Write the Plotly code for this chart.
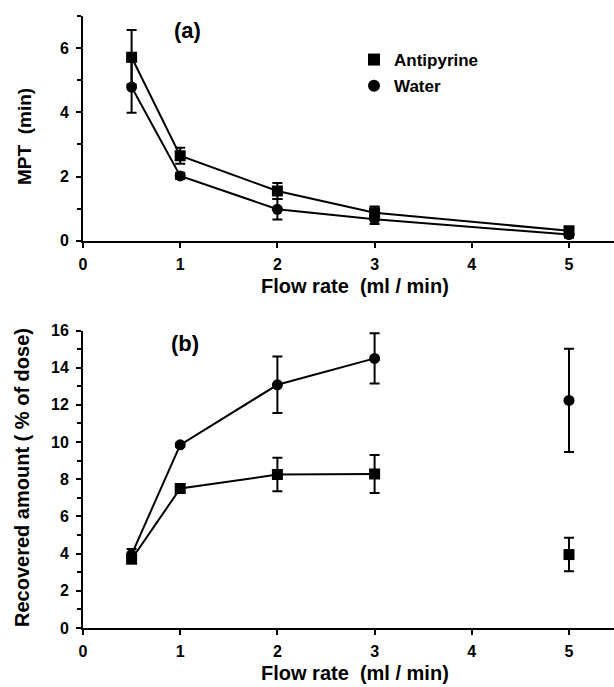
import plotly.graph_objects as go

# ---- data ----
flow = [0.5, 1, 2, 3, 5]

mpt_antipyrine = [5.72, 2.65, 1.55, 0.87, 0.31]
mpt_antipyrine_err = [0.85, 0.25, 0.25, 0.2, 0.1]
mpt_water = [4.79, 2.02, 0.98, 0.67, 0.19]
mpt_water_err = [0.8, 0.1, 0.32, 0.15, 0.1]

rec_antipyrine = [3.7, 7.5, 8.25, 8.28, 3.95]
rec_antipyrine_err = [0.2, 0.1, 0.9, 1.02, 0.9]
rec_water = [3.95, 9.85, 13.08, 14.5, 12.24]
rec_water_err = [0.3, 0.1, 1.52, 1.35, 2.78]

x_ticks = [0, 1, 2, 3, 4, 5]
y1_ticks = [0, 2, 4, 6]
y2_ticks = [0, 2, 4, 6, 8, 10, 12, 14, 16]

FONT = "Liberation Sans, Arial, Helvetica, sans-serif"
BLACK = "black"

W, H = 614, 687
AX_LEFT, AX_BOTTOM = 83, 628      # pixel of the axes origin (bottom panel)
ML = AX_LEFT
MT = 16
MB = H - AX_BOTTOM
MR = 0
PH = H - MT - MB
PW = W - ML - MR


def px_x(p):
    return (p - ML) / PW


def px_y(p):
    return (H - MB - p) / PH


def ydom(top_px, bottom_px):
    return [px_y(bottom_px), px_y(top_px)]


fig = go.Figure()


def add_series(x, y, err, symbol, xa, ya, connect_n):
    fig.add_trace(go.Scatter(
        x=x[:connect_n], y=y[:connect_n], mode="lines+markers",
        xaxis=xa, yaxis=ya, showlegend=False,
        line=dict(color=BLACK, width=2),
        marker=dict(symbol=symbol, size=11, color=BLACK),
        error_y=dict(type="data", array=err[:connect_n], color=BLACK,
                     thickness=2, width=5),
    ))
    if connect_n < len(x):
        fig.add_trace(go.Scatter(
            x=x[connect_n:], y=y[connect_n:], mode="markers",
            xaxis=xa, yaxis=ya, showlegend=False,
            marker=dict(symbol=symbol, size=11, color=BLACK),
            error_y=dict(type="data", array=err[connect_n:], color=BLACK,
                         thickness=2, width=5),
        ))


# panel (a)
add_series(flow, mpt_antipyrine, mpt_antipyrine_err, "square", "x", "y", 5)
add_series(flow, mpt_water, mpt_water_err, "circle", "x", "y", 5)
# panel (b)
add_series(flow, rec_antipyrine, rec_antipyrine_err, "square", "x2", "y2", 4)
add_series(flow, rec_water, rec_water_err, "circle", "x2", "y2", 4)

# legend entries
fig.add_trace(go.Scatter(x=[None], y=[None], mode="markers", name="Antipyrine",
                         legendgroup="a", xaxis="x", yaxis="y",
                         marker=dict(symbol="square", size=10, color=BLACK)))
fig.add_trace(go.Scatter(x=[None], y=[None], mode="markers", name="Water",
                         legendgroup="b", xaxis="x", yaxis="y",
                         marker=dict(symbol="circle", size=10, color=BLACK)))

tickfont = dict(family=FONT, size=16, color=BLACK, weight="bold")

x_max = (614 - AX_LEFT) / 97.2
xcommon = dict(range=[0, x_max], tickvals=x_ticks, ticks="outside", ticklen=5,
               tickwidth=1.5, tickcolor=BLACK, showline=True, linecolor=BLACK,
               linewidth=2, showgrid=False, zeroline=False, tickfont=tickfont,
               ticklabelstandoff=3)
ycommon = dict(ticks="outside", ticklen=5, tickwidth=1.5, tickcolor=BLACK,
               showline=True, linecolor=BLACK, linewidth=2, showgrid=False,
               zeroline=False, tickfont=tickfont, ticklabelstandoff=4)

fig.update_layout(
    width=W, height=H,
    margin=dict(l=ML, r=MR, t=MT, b=MB, pad=0),
    paper_bgcolor="white", plot_bgcolor="white",
    font=dict(family=FONT, color=BLACK),
    xaxis=dict(**xcommon, anchor="y", domain=[0, 1]),
    yaxis=dict(**ycommon, anchor="x", domain=ydom(16.2, 240.7), range=[0, 7],
               tickvals=y1_ticks,
               minor=dict(dtick=1, tick0=0, ticks="outside", ticklen=4,
                          tickcolor=BLACK, tickwidth=1.5)),
    xaxis2=dict(**xcommon, anchor="y2", domain=[0, 1]),
    yaxis2=dict(**ycommon, anchor="x2", domain=ydom(330.5, 628), range=[0, 16],
                tickvals=y2_ticks,
                minor=dict(dtick=1, tick0=0, ticks="outside", ticklen=4,
                           tickcolor=BLACK, tickwidth=1.5)),
    legend=dict(x=px_x(354), y=px_y(42),
                xanchor="left", yanchor="top",
                font=dict(family=FONT, size=17, color=BLACK, weight="bold"),
                bgcolor="rgba(0,0,0,0)", tracegroupgap=1,
                traceorder="grouped", itemsizing="constant"),
)

ann_font = lambda s: dict(family=FONT, size=s, color=BLACK, weight="bold")
common = dict(xref="paper", yref="paper", showarrow=False,
              xanchor="center", yanchor="middle")
annotations = [
    dict(text="(a)", x=px_x(187), y=px_y(30), font=ann_font(22), **common),
    dict(text="(b)", x=px_x(185), y=px_y(343), font=ann_font(22), **common),
    dict(text="Flow rate\u00a0 (ml / min)", x=px_x(355), y=px_y(286),
         font=ann_font(20), **common),
    dict(text="Flow rate\u00a0 (ml / min)", x=px_x(355), y=px_y(673),
         font=ann_font(20), **common),
    dict(text="MPT\u00a0 (min)", x=px_x(25), y=px_y(137), textangle=-90,
         font=ann_font(19), **common),
    dict(text="Recovered amount ( % of dose)", x=px_x(22), y=px_y(478),
         textangle=-90, font=ann_font(20), **common),
]
fig.update_layout(annotations=annotations)

fig.write_html("out.html", config={"displayModeBar": False},
               post_script="document.body.style.margin='0px';")
